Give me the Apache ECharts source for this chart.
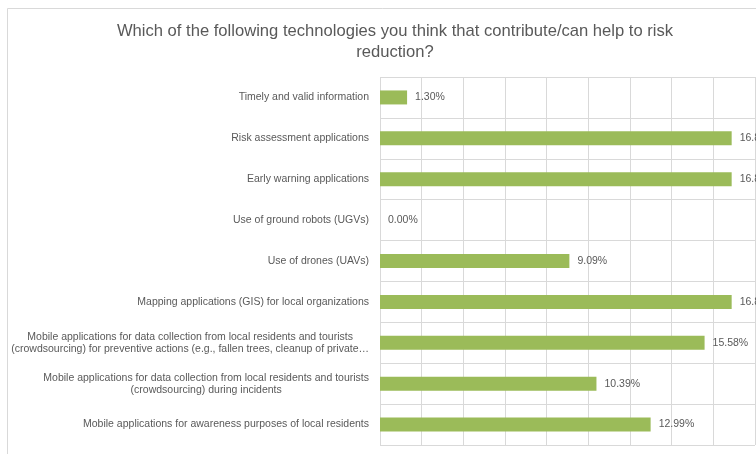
<!DOCTYPE html>
<html>
<head>
<meta charset="utf-8">
<script src="https://cdn.jsdelivr.net/npm/echarts@6/dist/echarts.min.js"></script>
<style>
  html, body { margin: 0; padding: 0; background: #fff; }
  #main { width: 756px; height: 454px; }
</style>
</head>
<body>
<div id="main"></div>
<script>
var titleText = 'Which of the following technologies you think that contribute/can help to risk\nreduction?';

// top to bottom, as in the picture
var categories = [
    'Timely and valid information',
    'Risk assessment applications',
    'Early warning applications',
    'Use of ground robots (UGVs)',
    'Use of drones (UAVs)',
    'Mapping applications (GIS) for local organizations',
    'Mobile applications for data collection from local residents and tourists\n(crowdsourcing) for preventive actions (e.g., fallen trees, cleanup of private\u2026',
    'Mobile applications for data collection from local residents and tourists\n(crowdsourcing) during incidents',
    'Mobile applications for awareness purposes of local residents'
];

var percents = [1.30, 16.88, 16.88, 0.00, 9.09, 16.88, 15.58, 10.39, 12.99];

var textGrey = '#595959';
var fontName = 'Liberation Sans';

var option = {
    animation: false,
    backgroundColor: '#fff',
    title: {
        text: titleText,
        left: 390,
        top: 16,
        textAlign: 'center',
        textStyle: {
            fontFamily: fontName,
            fontSize: 16.6,
            fontWeight: 'normal',
            color: textGrey,
            lineHeight: 21
        }
    },
    graphic: {
        elements: [{
            // chart frame
            type: 'rect',
            silent: true,
            shape: { x: 7.5, y: 8.5, width: 900, height: 600 },
            style: { fill: 'none', stroke: '#d9d9d9', lineWidth: 1 }
        }]
    },
    grid: {
        left: 380,
        right: 1,
        top: 77,
        bottom: 9,
        containLabel: false
    },
    xAxis: {
        type: 'value',
        min: 0,
        max: 18,
        interval: 2,
        axisLabel: { show: false },
        axisLine: { show: false },
        axisTick: { show: false },
        splitLine: { show: true, lineStyle: { color: '#d9d9d9', width: 1 } }
    },
    yAxis: {
        type: 'category',
        data: categories,
        inverse: true,
        axisLine: { show: false },
        axisTick: { show: false },
        splitLine: { show: true, lineStyle: { color: '#d9d9d9', width: 1 } },
        axisLabel: {
            margin: 11,
            fontFamily: fontName,
            fontSize: 10.5,
            color: textGrey,
            lineHeight: 12,
            formatter: function (v) {
                return v.split('\n').map(function (s) { return '{c|' + s + '}'; }).join('\n');
            },
            rich: {
                c: {
                    align: 'center',
                    fontFamily: fontName,
                    fontSize: 10.5,
                    color: textGrey,
                    lineHeight: 12
                }
            }
        }
    },
    series: [{
        type: 'bar',
        data: percents,
        barWidth: 14,
        itemStyle: { color: '#9bbb59' },
        label: {
            show: true,
            position: 'right',
            distance: 8,
            fontFamily: fontName,
            fontSize: 10.5,
            color: textGrey,
            formatter: function (p) { return p.value.toFixed(2) + '%'; }
        }
    }]
};

echarts.init(document.getElementById('main')).setOption(option);
</script>
</body>
</html>
